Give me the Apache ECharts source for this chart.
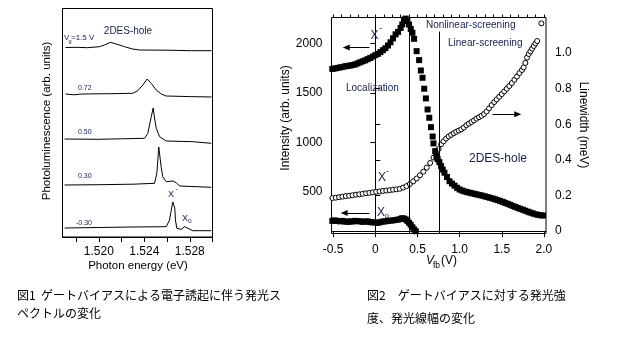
<!DOCTYPE html>
<html><head><meta charset="utf-8">
<script src="https://cdn.jsdelivr.net/npm/echarts@6/dist/echarts.min.js"></script>
<style>html,body{margin:0;padding:0;background:#fff}#c{width:620px;height:348px}</style>
</head><body><div id="c"></div>
<script>
// ===== Fig.1 : PL spectra (photon energy eV, PL arb. units relative to each trace's baseline) =====
const specNames = ['1.5', '0.72', '0.50', '0.30', '-0.30'];
const specOffsets = [189.5, 143, 98, 52, 9];
const spec150 = [[1.51706,0],[1.51800,0.2],[1.51900,-0.2],[1.52006,0.8],[1.5205,2.5],[1.52102,5.2],[1.52153,3.5],[1.52226,0.8],[1.52296,-1.5],[1.52358,-2.5],[1.52600,-2.7],[1.52815,-3.2],[1.52991,-3.2]];
const spec072 = [[1.51706,0],[1.51780,-0.8],[1.51850,0],[1.52100,0.3],[1.52296,0.7],[1.52343,3.3],[1.52387,9],[1.52425,15],[1.5246,10.7],[1.52505,4],[1.52549,0],[1.52593,-2],[1.52800,-2.6],[1.52991,-3]];
const spec050 = [[1.51698,0],[1.51990,-0.3],[1.52200,0.2],[1.52402,0.7],[1.52431,5.7],[1.52446,14],[1.52461,22.3],[1.52478,31],[1.5249,21],[1.52505,10.7],[1.52534,2.3],[1.52593,-2],[1.52827,-2.7],[1.52989,-4.3]];
const spec030 = [[1.51698,0],[1.52000,0.3],[1.52300,0.8],[1.5249,1.7],[1.5251,11.7],[1.52519,25],[1.52527,38],[1.52536,40],[1.52548,18.3],[1.52562,8.3],[1.52593,3.3],[1.52651,4],[1.52681,2.3],[1.5271,-1],[1.52989,-2.3]];
const specm030 = [[1.51698,0],[1.52000,0.5],[1.52300,1],[1.52593,1.3],[1.52622,8],[1.52637,18],[1.52651,26],[1.5266,28],[1.52668,20],[1.52674,8],[1.52686,-0.3],[1.52725,-1.3],[1.52754,1.3],[1.52783,-0.3],[1.52827,-2.7],[1.52989,-2.7]];
const spectra = [spec150, spec072, spec050, spec030, specm030];
const energyTicks = [1.518, 1.520, 1.522, 1.524, 1.526, 1.528, 1.530];
const energyLabels = [1.520, 1.524, 1.528];

// ===== Fig.2 : intensity & linewidth vs V_fb =====
const vXminus = [-0.51,-0.48,-0.45,-0.42,-0.39,-0.36,-0.33,-0.30,-0.27,-0.24,-0.21,-0.18,-0.15,-0.12,-0.09,-0.06,-0.03,0.00,0.03,0.06,0.09,0.12,0.15,0.18,0.21,0.24,0.27,0.30,0.32,0.34,0.35,0.36,0.38,0.40,0.42,0.44,0.46,0.49,0.52,0.54,0.56,0.58,0.60,0.62,0.64,0.66,0.68,0.69,0.71,0.725,0.74,0.76,0.78,0.80,0.82,0.85,0.88,0.91,0.94,0.97,1.00,1.03,1.06,1.09,1.12,1.15,1.18,1.21,1.24,1.27,1.30,1.33,1.36,1.39,1.42,1.45,1.48,1.51,1.54,1.57,1.60,1.63,1.66,1.69,1.72,1.75,1.78,1.81,1.84,1.87,1.90,1.93,1.96,1.99];
const iXminus = [1745,1749,1754,1760,1765,1771,1775,1779,1784,1790,1801,1812,1822,1832,1844,1856,1870,1884,1897,1915,1935,1955,1982,2015,2055,2095,2120,2160,2196,2230,2246,2255,2235,2195,2150,2111,2050,1925,1834,1729,1655,1544,1446,1334,1250,1155,1060,990,912,855,830,800,760,725,693,650,607,583,562,540,523,512,503,496,490,484,478,472,466,460,453,446,439,432,424,416,407,398,388,378,368,357,347,337,327,318,308,298,289,280,272,266,262,259];
const vX0 = [-0.51,-0.48,-0.45,-0.42,-0.39,-0.36,-0.33,-0.30,-0.27,-0.24,-0.21,-0.18,-0.15,-0.12,-0.09,-0.06,-0.03,0.00,0.03,0.06,0.09,0.12,0.15,0.18,0.21,0.24,0.27,0.30,0.32,0.34,0.36,0.38,0.40,0.42,0.44,0.46,0.48];
const iX0 = [205,210,204,200,205,198,195,200,198,205,202,200,195,198,200,192,190,188,185,192,198,200,205,207,210,214,218,225,232,228,220,205,185,165,140,118,100];
const vWidth = [-0.51,-0.47,-0.43,-0.39,-0.35,-0.31,-0.27,-0.23,-0.19,-0.15,-0.11,-0.07,-0.03,0.01,0.05,0.09,0.13,0.17,0.21,0.25,0.29,0.33,0.37,0.41,0.45,0.49,0.53,0.57,0.61,0.65,0.69,0.72,0.75,0.78,0.81,0.84,0.87,0.90,0.93,0.96,0.99,1.02,1.05,1.08,1.11,1.14,1.17,1.20,1.23,1.26,1.29,1.32,1.35,1.38,1.41,1.44,1.47,1.50,1.53,1.56,1.59,1.62,1.65,1.68,1.71,1.74,1.76,1.78,1.80,1.82,1.84,1.86,1.88,1.90,1.92,1.97];
const linewidth = [0.186,0.188,0.191,0.194,0.197,0.199,0.202,0.205,0.207,0.210,0.213,0.215,0.218,0.221,0.223,0.226,0.228,0.230,0.233,0.235,0.238,0.245,0.253,0.265,0.280,0.296,0.314,0.334,0.357,0.383,0.413,0.437,0.461,0.488,0.505,0.520,0.532,0.541,0.550,0.558,0.565,0.572,0.582,0.595,0.604,0.613,0.622,0.632,0.640,0.648,0.658,0.672,0.690,0.708,0.725,0.740,0.755,0.770,0.785,0.800,0.815,0.832,0.850,0.868,0.888,0.905,0.920,0.945,0.975,0.995,1.010,1.025,1.040,1.055,1.068,1.167];
const vfbMajor = [-0.5, 0, 0.5, 1.0, 1.5, 2.0];
const vfbMinor = [-0.5,-0.4,-0.3,-0.2,-0.1,0,0.1,0.2,0.3,0.4,0.5,0.6,0.7,0.8,0.9,1.0,1.1,1.2,1.3,1.4,1.5,1.6,1.7,1.8,1.9,2.0];
const intensityTicks = [500, 1000, 1500, 2000];
const linewidthTicks = [0, 0.2, 0.4, 0.6, 0.8, 1.0];
const regionBounds = [0.40, 0.76];        // V_fb of the two vertical lines
const regionTop = [2266, 2124];            // top end of each line (intensity units)
const arrowXminus = [[-0.07, 1963], [-0.345, 1963]];
const arrowX0 = [[-0.07, 284], [-0.37, 284]];
const arrowWidth = [[1.39, 0.657], [1.69, 0.657]];

const FONT = '"Liberation Sans", Arial, sans-serif';
const INK = '#14204d';
function txt(s, x, y, size, opt) {
  opt = opt || {};
  return { type: 'text', x: x, y: y, rotation: opt.rot || 0, silent: true, z: 100,
    style: { text: s, font: (opt.italic ? 'italic ' : '') + size + 'px ' + (opt.family || FONT),
      fill: opt.fill || '#000', align: opt.align || 'left', textAlign: opt.align || 'left',
      verticalAlign: 'middle', textVerticalAlign: 'middle' } };
}

const chart = echarts.init(document.getElementById('c'), null, { renderer: 'canvas' });
const fmt1 = v => (Math.abs(v) < 1e-9 ? '0' : v.toFixed(1));

const series = [];
spectra.forEach((sp, k) => {
  series.push({ type: 'line', xAxisIndex: 0, yAxisIndex: 0, showSymbol: false, silent: true,
    data: sp.map(p => [p[0], p[1] + specOffsets[k]]),
    lineStyle: { color: '#000', width: 1 }, z: 3 });
});
const mlBase = { silent: true, symbol: 'none', label: { show: false }, emphasis: { disabled: true },
  lineStyle: { color: '#000', width: 1, type: 'solid' }, animation: false };
series.push({ type: 'scatter', name: 'linewidth', xAxisIndex: 1, yAxisIndex: 2, symbol: 'circle', symbolSize: 5,
  data: vWidth.map((v, i) => [v, linewidth[i]]),
  itemStyle: { color: '#fff', borderColor: '#000', borderWidth: 1, opacity: 1 }, z: 4,
  markLine: Object.assign({}, mlBase, { symbol: ['none', 'triangle'], symbolSize: [6, 7],
    data: [[{ coord: arrowWidth[0] }, { coord: arrowWidth[1] }]] }) });
series.push({ type: 'scatter', name: 'X-', xAxisIndex: 1, yAxisIndex: 1, symbol: 'rect', symbolSize: 6,
  data: vXminus.map((v, i) => [v, iXminus[i]]), itemStyle: { color: '#000', opacity: 1 }, z: 5,
  markLine: Object.assign({}, mlBase, {
    data: regionBounds.map((b, i) => [{ coord: [b, 77] }, { coord: [b, regionTop[i]] }]) }) });
series.push({ type: 'scatter', name: 'X0', xAxisIndex: 1, yAxisIndex: 1, symbol: 'rect', symbolSize: 6,
  data: vX0.map((v, i) => [v, iX0[i]]), itemStyle: { color: '#000', opacity: 1 }, z: 5,
  markLine: Object.assign({}, mlBase, { symbol: ['none', 'triangle'], symbolSize: [6, 7],
    data: [[{ coord: arrowXminus[0] }, { coord: arrowXminus[1] }], [{ coord: arrowX0[0] }, { coord: arrowX0[1] }]] }) });

const axLabel = { color: '#000', fontSize: 12, fontFamily: FONT };
const option = {
  animation: false,
  backgroundColor: '#fff',
  grid: [
    { left: 62.5, top: 8.5, width: 150, height: 228.5, show: true, borderColor: '#000', borderWidth: 1, backgroundColor: 'transparent' },
    { left: 331.5, top: 17.5, width: 214.5, height: 216, show: true, borderColor: '#000', borderWidth: 1, backgroundColor: 'transparent' }
  ],
  xAxis: [
    { type: 'value', gridIndex: 0, min: 1.5168, max: 1.5300, splitLine: { show: false },
      axisLine: { show: true, lineStyle: { color: '#000' } },
      axisTick: { show: true, length: 5, customValues: energyTicks, lineStyle: { color: '#000' } },
      axisLabel: Object.assign({ customValues: energyLabels, margin: 9, formatter: v => v.toFixed(3) }, axLabel) },
    { type: 'value', gridIndex: 1, min: -0.52, max: 2.025, splitLine: { show: false },
      axisLine: { show: true, lineStyle: { color: '#000' } },
      axisTick: { show: true, length: 6, customValues: vfbMajor, lineStyle: { color: '#000' } },
      axisLabel: Object.assign({ customValues: vfbMajor, margin: 10, formatter: fmt1 }, axLabel) },
    { type: 'value', gridIndex: 1, min: -0.52, max: 2.025, splitLine: { show: false },
      axisLine: { show: false },
      axisTick: { show: true, length: 3, customValues: vfbMinor, lineStyle: { color: '#000' } },
      axisLabel: { show: false } }
  ],
  yAxis: [
    { type: 'value', gridIndex: 0, min: 0, max: 228.5, splitLine: { show: false },
      axisLine: { show: true, lineStyle: { color: '#000' } }, axisTick: { show: false }, axisLabel: { show: false } },
    { type: 'value', gridIndex: 1, min: 77, max: 2266, splitLine: { show: false },
      axisLine: { show: true, lineStyle: { color: '#000' } },
      axisTick: { show: true, length: 5, customValues: intensityTicks, lineStyle: { color: '#000' } },
      axisLabel: Object.assign({ customValues: intensityTicks, margin: 9, formatter: v => String(Math.round(v)) }, axLabel) },
    { type: 'value', gridIndex: 1, position: 'right', min: -0.013, max: 1.2, splitLine: { show: false },
      axisLine: { show: true, lineStyle: { color: '#000' } },
      axisTick: { show: true, length: 5, customValues: linewidthTicks, lineStyle: { color: '#000' } },
      axisLabel: Object.assign({ customValues: linewidthTicks, margin: 9, formatter: fmt1 }, axLabel) }
  ],
  series: series,
  graphic: { elements: [
    // Fig.1 annotations
    txt('Photoluminescence (arb. units)', 47, 121, 11.5, { rot: Math.PI / 2, align: 'center' }),
    txt('Photon energy (eV)', 138, 266, 11.5, { align: 'center' }),
    txt('2DES-hole', 128, 31, 10, { align: 'center', fill: INK }),
    txt('V', 64, 38, 8, { fill: INK }), txt('g', 68.5, 41, 5.5, { fill: INK }), txt('=1.5 V', 71, 38, 8, { fill: INK }),
    txt(specNames[1], 78, 88, 7, { fill: INK }),
    txt(specNames[2], 78, 132, 7, { fill: INK }),
    txt(specNames[3], 78, 176, 7, { fill: INK }),
    txt(specNames[4], 76, 223, 7, { fill: INK }),
    txt('X', 168, 195, 9, { fill: INK }), txt('-', 175.5, 189, 7, { fill: INK }),
    txt('X', 182, 219, 9, { fill: INK }), txt('o', 188, 221, 6.5, { fill: INK }),
    // Fig.2 annotations
    txt('Intensity (arb. units)', 286, 118, 12, { rot: Math.PI / 2, align: 'center' }),
    txt('Linewidth (meV)', 583, 125, 12, { rot: -Math.PI / 2, align: 'center' }),
    txt('V', 426, 261, 12, { italic: true }), txt('fb', 433, 266, 8.5), txt('(V)', 441, 261, 12),
    txt('X', 370.5, 36, 12, { fill: INK }), txt('-', 379, 29, 9, { fill: INK }),
    txt('Localization', 346, 88, 10, { fill: INK }),
    txt('Nonlinear-screening', 426, 25, 10, { fill: INK }),
    txt('Linear-screening', 448, 43.5, 10, { fill: INK }),
    txt('2DES-hole', 469, 159, 12, { fill: INK }),
    txt('X', 378, 178, 12, { fill: INK }), txt('-', 386, 172, 9, { fill: INK }),
    txt('X', 377, 213, 12, { fill: INK }), txt('o', 384.5, 215.5, 8, { fill: INK }),
    // captions
    txt('図1  ゲートバイアスによる電子誘起に伴う発光ス', 17, 295, 12, { family: '"Noto Sans CJK JP"' }),
    txt('ペクトルの変化', 17, 313, 12, { family: '"Noto Sans CJK JP"' }),
    txt('図2　ゲートバイアスに対する発光強', 367, 295, 12, { family: '"Noto Sans CJK JP"' }),
    txt('度、発光線幅の変化', 367, 318, 12, { family: '"Noto Sans CJK JP"' })
  ] }
};
chart.setOption(option);
</script>
</body></html>
